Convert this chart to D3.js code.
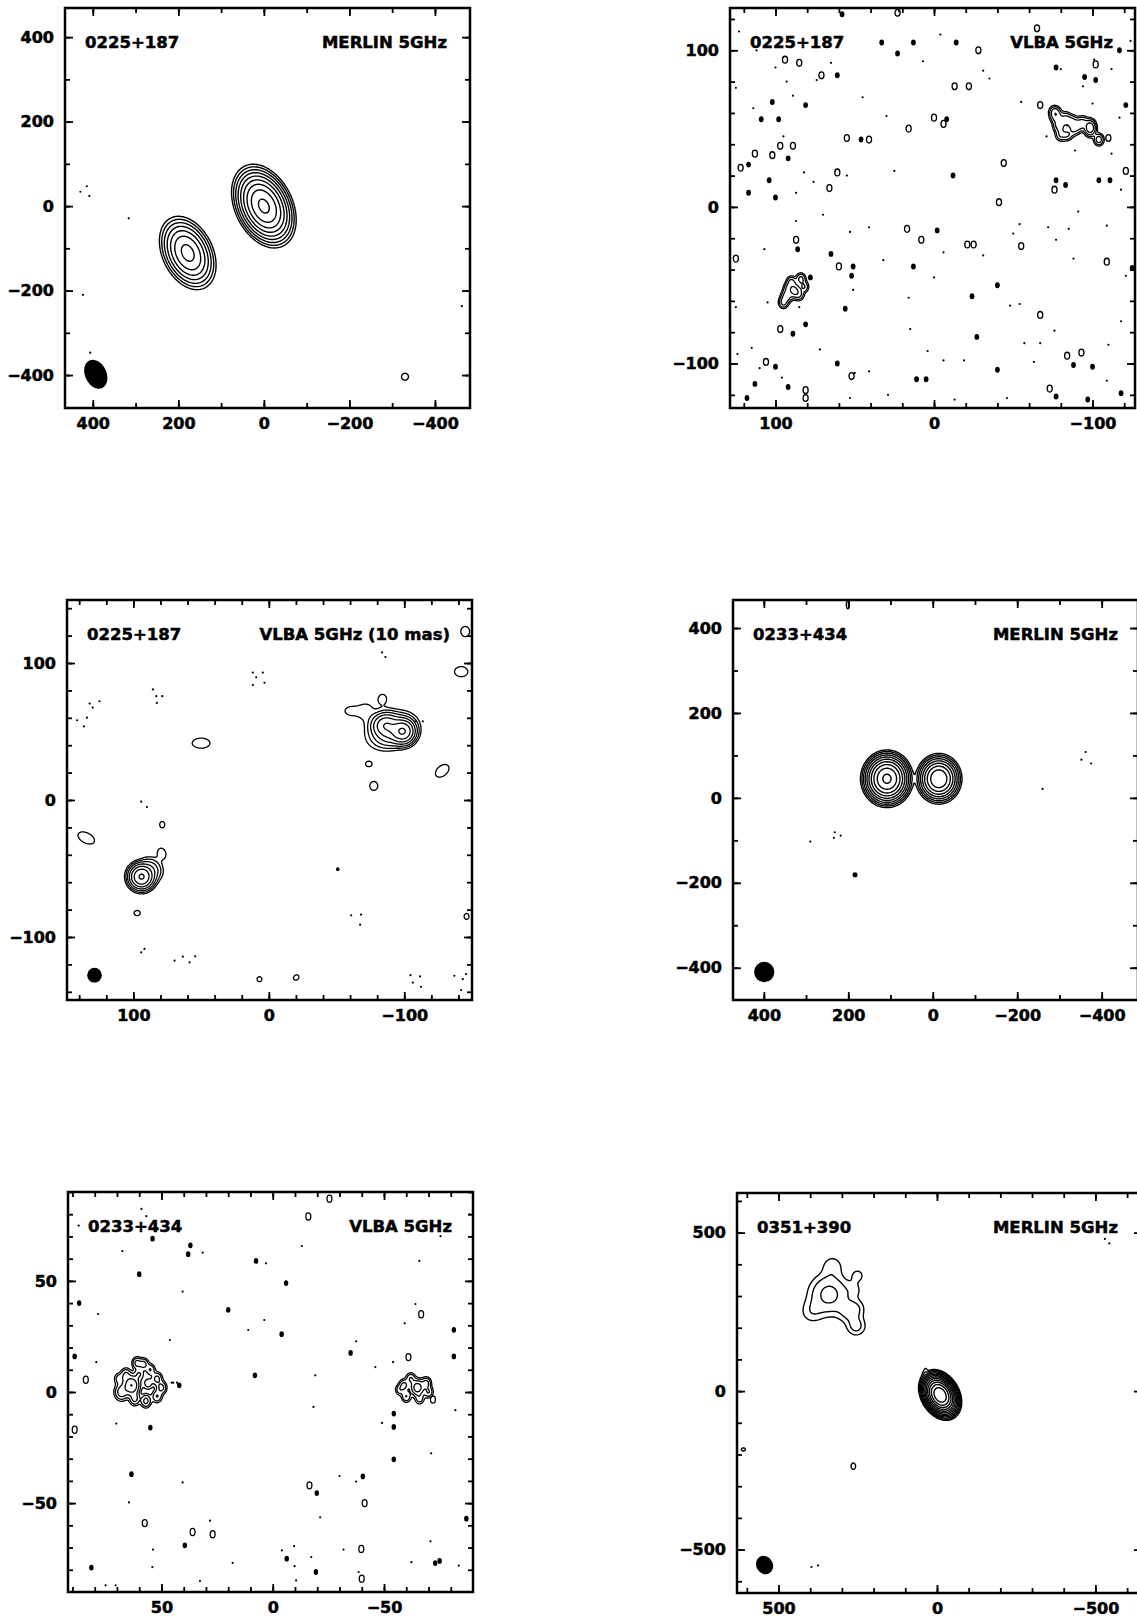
<!DOCTYPE html>
<html>
<head>
<meta charset="utf-8">
<script src="https://cdn.jsdelivr.net/npm/d3@7"></script>
<style>
body { margin: 0; background: #fff; }
</style>
</head>
<body>
<script>
// ---------- data (offsets in mas; amp in units of the lowest contour) ----------
// components: [x, y, amp, sigmaMajor, sigmaMinor, PA(deg, N through E)]
var p1Comps = [[0, 0, 300, 31, 20, 25], [178, -111, 80, 31, 20, 25], [-330, -404, 1.4, 10, 10, 0]];
var p1Dots = [[414, 47], [429, 34], [408, 24], [316, -29], [423, -210], [406, -347], [-463, -237]];
var p1Beam = [393, -398, 36, 25, 25];
var merlinLevels = [1, 2, 4, 8, 16, 32, 64, 128, 256];

var p2Comps = [
  [-98.5, 50.5, 14, 2.8, 2, 0], [-77, 58, 6, 2.6, 2.2, 0], [-79, 52, 6, 2.6, 2.2, 0], [-83, 56, 5, 2.6, 2.2, 0],
  [-87, 54, 5, 2.6, 2.2, 0], [-91, 52, 5, 2.6, 2.2, 0], [-94, 54, 4, 2.4, 2, 0], [-80, 46, 4, 2.4, 2, 0],
  [-84, 46, 4, 2.2, 2, 0], [-76, 61, 4, 2.2, 2, 0], [-104, 43, 6, 2.2, 1.8, 0], [-88, 49, 3, 2.4, 2, 0],
  [88, -53.5, 10, 2.6, 2, 0], [93, -57, 6, 2.4, 2, 0], [95, -61, 5, 2.2, 1.8, 0], [84, -46, 5, 2.2, 1.8, 0],
  [90, -48, 5, 2.2, 1.8, 0], [85, -56, 4, 2.2, 1.8, 0], [82, -51, 4, 2.2, 1.8, 0], [92, -52, 4, 2.2, 1.8, 0]
];
var p2Rings = [[94,94],[85,92],[71,84],[113,34],[102,33],[97,39],[89,39],[66,12],[61,22],[55,44],[41,43],[16,50],[0,57],[-6,53],[-13,77],[-22,77],[-28,100],[-65,114],[-67,65],[-44,28],[-41,3],[17,-14],[8,-21],[-21,-24],[-25,-24],[-55,-25],[-109,-35],[-67,-69],[60,-38],[87,-21],[97,-78],[106,-99],[52,-108],[81,-117],[81,-122],[-93,-93],[-84,-95],[-73,-116],[-121,23],[125,-33],[122,25],[-76,11],[-102,91],[-110,44],[23,124]];
var p2Blobs = [[61,84],[81,65],[46,43],[92,31],[117,27],[102,67],[109,56],[98,56],[104,17],[117,9],[100,6],[-8,56],[33,105],[-14,105],[23,98],[13,105],[58,123],[-12,20],[-77,89],[-95,83],[-102,81],[-117,100],[-121,65],[-104,17],[-111,17],[-77,17],[-83,14],[-2,-15],[13,-38],[-24,-57],[-27,-83],[5,-110],[11,-110],[-40,-104],[-100,-102],[-88,-101],[-118,-119],[-97,-123],[-77,-121],[89,-81],[61,-100],[78,-45],[52,-44],[51,-38],[56,-65],[81,-75],[100,-102],[92,-115],[113,-113],[118,-122],[86,-27],[65,-30],[-125,-39],[-40,-50]];
var p2Dots = [[123,112],[112,100],[100,89],[93,80],[74,81],[65,92],[45,70],[30,58],[7,93],[-4,110],[-31,87],[-35,82],[-55,67],[-71,45],[-89,36],[-112,34],[-118,11],[-91,-3],[-109,-12],[-85,-14],[-72,-13],[-50,-17],[-54,-11],[-77,-21],[-88,-33],[-121,-44],[-118,-73],[-110,-88],[-109,-111],[-57,-87],[-67,-87],[-48,-63],[-54,-62],[-76,-79],[-63,-99],[-46,-122],[-13,-123],[-19,-98],[-6,-98],[29,-120],[41,-105],[53,-122],[50,-106],[72,-91],[96,-109],[110,-103],[124,-94],[105,-61],[125,-64],[115,-90],[85,-64],[87,-9],[107,-27],[70,-5],[53,-16],[41,-13],[16,-58],[15,-78],[4,-92],[0,-45],[-6,-29],[-31,-31],[32,-34],[51,-53],[56,-64],[25,23],[55,20],[76,16],[82,22],[95,45],[87,9],[125,76],[114,63],[89,71],[22,125],[-101,94],[-112,88],[-124,106],[-80,88],[-94,77],[-100,66],[-117,57],[-84,52]];
var vlbaLevels = [1, 2, 4, 8, 16];

var p3Comps = [
  [-99, 50, 60, 4.3, 4.3, 0], [-86, 55, 25, 5, 4.3, 100], [-92, 50, 15, 7, 5, 110], [-90, 51, 4, 11, 7.5, 110],
  [-60, 65, 1.2, 6, 4.5, 90], [-72, 65, 1.25, 6, 5, 0], [-84, 74, 1.25, 4.5, 4, 0],
  [94, -56, 70, 4.3, 4.3, 0], [86, -50, 5, 5, 4, 40], [79, -39, 1.6, 4, 3, 20],
  [50, 41.5, 1.4, 8, 4.5, 90], [134.8, -27.7, 1.4, 8, 4.5, 63], [78.7, -18, 1.3, 3.2, 2.6, 0],
  [97.2, -82.5, 1.3, 3.2, 2.6, 90], [-73.8, 26.3, 1.3, 3.2, 2.6, 90], [-77.5, 10.3, 1.35, 4.2, 3.8, 0],
  [-128, 21.3, 1.4, 7, 4.5, 130], [-142, 93.7, 1.4, 6, 4.5, 90], [-145, 123, 1.4, 4.5, 4, 0],
  [-146, -85, 1.3, 3, 2.5, 0], [6.9, -130.8, 1.3, 2.5, 2.5, 0], [-20.2, -129.6, 1.3, 3, 2.5, 130]
];
var p3Dots = [[-83.6,107.7],[-86.1,104.3],[11.8,93],[4.4,93],[9.3,89.6],[11.8,83.9],[3.2,85.6],[85.6,80.7],[83.1,75.8],[78.7,75.8],[82.7,70.9],[132.3,70.4],[125,72.1],[130,67.5],[141.5,58.2],[134.3,60.1],[136.5,53.7],[94.2,-1.2],[90,-5.2],[-60.8,-84.2],[-68.1,-83.7],[-67.4,-91],[94.2,-111.2],[91.8,-108.7],[69.6,-117.3],[63.5,-114.4],[58.5,-118.5],[54.4,-114.1],[-104.6,-127.9],[-111.7,-128.8],[-106.3,-133.3],[-112.4,-136.4],[-137,-128.3],[-143.2,-130.8],[-145.6,-127.1],[-142,-138.7],[-108.2,57.4],[-113.7,57.4]];
var p3Blobs = [[-50.9, -50.6]];
var p3Beam = [128.7, -127.9, 5.4, 5.4, 0];
var p3Levels = [1, 2, 4, 8, 16, 32, 64];

var p4Comps = [[108.5, 45, 600, 19, 17.5, 0], [-14.3, 45, 250, 18, 16.5, 0], [201, 455, 1.3, 14, 5, 0]];
var p4Dots = [[-362,108],[-352,90],[-375,81],[-260,21],[232,-81],[234,-94],[218,-89],[290,-103]];
var p4Blobs = [[184, -181]];
var p4Beam = [399, -410, 24, 24, 0];
var p4Levels = [1, 2, 4, 8, 16, 32, 64, 128, 256, 512];

var p5Comps = [
  [63.5, 3, 16, 2.4, 2, 0], [61, 13, 5, 1.6, 1.3, 0], [58, 12.5, 5, 1.6, 1.3, 0], [55, 10, 4, 1.6, 1.3, 0],
  [52, 6, 5, 1.7, 1.4, 0], [50, 2, 5, 1.7, 1.4, 0], [52, -2, 4, 1.7, 1.4, 0], [57, -4, 5, 1.8, 1.4, 0],
  [62, -3, 5, 1.8, 1.4, 0], [68, 0, 6, 2.2, 1.8, 0], [56, 4, 3, 1.8, 1.5, 0], [60, 8, 4, 1.6, 1.4, 0],
  [66, 8, 4, 1.7, 1.4, 0], [69, 6, 3, 1.6, 1.4, 0],
  [-65, 2, 12, 2, 1.7, 0], [-59, 3, 5, 1.6, 1.3, 0], [-60, -2, 4, 1.6, 1.3, 0], [-62, 6, 4, 1.6, 1.3, 0],
  [-69, 4, 5, 1.6, 1.3, 0], [-70, 0, 4, 1.6, 1.3, 0], [-57, 1, 3, 1.5, 1.2, 0], [-66, -3, 3, 1.6, 1.3, 0]
];
var p5Rings = [[84,5.5],[89,-17],[57.5,-59],[36,-63],[27,-64],[-16,79],[-25.5,87],[-66.7,35],[-61,15.7],[-72,-3.4],[-16.5,-42],[-41.3,-50],[-39.8,-70.6],[-40,-84]];
var p5Blobs = [[60,53],[38,62],[37,66],[54,69],[7.5,59],[-6,49],[20,37],[-4,26],[8,7.5],[42,3],[87,40],[89,16],[55,-16],[63.5,-37],[39.5,-69],[81.5,-79],[-35,17.6],[-54.4,-9.7],[-54.4,-15.7],[-54.4,-30.3],[-81.4,28],[-81.4,16],[-40.5,-38],[-19.8,-45.5],[-6.3,-75],[-19.4,-81],[-73,-77],[-75,-76],[-87,-57]];
var p5Dots = [[87.2,74.9],[59,82.4],[56.8,79.1],[67.6,63.4],[31.5,62.7],[40.5,45.2],[78.5,35.1],[46.2,23.4],[79.3,13.4],[44.7,4.2],[3,57.9],[3.8,32.4],[11,27.9],[-13.1,65.7],[-19.1,7.5],[-37.5,22.8],[-46.1,11.2],[-54.1,13.4],[-59.3,30.9],[-65.9,59],[-64.1,39.6],[-75.4,70.1],[-88.6,79.9],[-82.1,-8.2],[-71.2,-27.6],[-49.1,-13.9],[-30,-37.8],[-37.5,-40.3],[-21.3,-56.4],[-9.6,-69.4],[-4.1,-71.3],[-9.8,-78.4],[-17.3,-74.3],[-10.5,-84.8],[-31.8,-70.9],[-38.6,-81],[-62.3,-76.6],[-70.9,-67.2],[-83.6,-78.1],[-87.4,-57.5],[18,-76.9],[32.7,-85.1],[28.2,-57.9],[40.5,-40.7],[54.1,-78.8],[53.8,-70.9],[64.6,-49.7],[70.3,-14.2],[75.1,-87],[70.6,-87],[-18.3,-6.7],[45.4,4.2],[43,4.2]];

var p6Comps = [
  [-10, -12, 4000, 21, 15, 30], [38, 62, 1.2, 12, 5, -15],
  [340, 305, 5, 38, 38, 0], [330, 395, 1.6, 22, 22, 0], [395, 250, 1.5, 25, 25, 0],
  [255, 205, 2.6, 20, 20, 0], [280, 250, 2, 22, 22, 0], [255, 260, 1.6, 20, 20, 0],
  [250, 365, 1.4, 15, 15, 0], [260, 320, 1.0, 18, 18, 0],
  [264, -237, 1.3, 14, 10, 0], [611, -184, 1.3, 9, 7, 90]
];
var p6Dots = [[396, -555], [375, -550], [-544, 466], [-530, 480]];
var p6Beam = [544, -549, 30, 26, 30];
var p6Levels = [1, 2, 4, 8, 16, 32, 64, 128, 256, 512, 1024, 2048];

// ---------- layout ----------
var W = 405, H = 400;
var panels = [
  { left: 65, top: 8, xDom: [465, -482], yDom: [-478, 469], step: 2.5, comps: p1Comps, levels: merlinLevels,
    dots: p1Dots, beam: p1Beam, major: [-400, -200, 0, 200, 400], minor: d3.range(-400, 401, 100),
    name: "0225+187", title: "MERLIN 5GHz", titleRight: 23, lw: 1.4 },
  { left: 730, top: 8, xDom: [128.7, -126.8], yDom: [-128.4, 127], step: 0.5, comps: p2Comps, levels: vlbaLevels,
    rings: p2Rings, blobs: p2Blobs, dots: p2Dots, ringSize: [1.6, 2.2], blobSize: [1.5, 1.9],
    major: [-100, 0, 100], minor: d3.range(-120, 121, 20), name: "0225+187", title: "VLBA 5GHz", titleRight: 22, lw: 1.3 },
  { left: 67, top: 600, xDom: [149, -150], yDom: [-146, 146], step: 0.75, comps: p3Comps, levels: p3Levels,
    dots: p3Dots, blobs: p3Blobs, blobSize: [1.3, 1.5], beam: p3Beam, major: [-100, 0, 100], minor: d3.range(-140, 141, 20),
    name: "0225+187", title: "VLBA 5GHz (10 mas)", titleRight: 22, lw: 1.3 },
  { left: 733, top: 600, xDom: [473, -486], yDom: [-476, 466], step: 2.5, comps: p4Comps, levels: p4Levels,
    dots: p4Dots, blobs: p4Blobs, blobSize: [6, 6], beam: p4Beam, major: [-400, -200, 0, 200, 400], minor: d3.range(-400, 401, 100),
    name: "0233+434", title: "MERLIN 5GHz", titleRight: 20, lw: 1.4 },
  { left: 68, top: 1192, xDom: [92, -90], yDom: [-90, 90], step: 0.3, comps: p5Comps, levels: vlbaLevels,
    rings: p5Rings, blobs: p5Blobs, dots: p5Dots, ringSize: [1.1, 1.6], blobSize: [1.0, 1.3],
    major: [-50, 0, 50], minor: d3.range(-80, 91, 10), name: "0233+434", title: "VLBA 5GHz", titleRight: 21, lw: 1.3 },
  { left: 737, top: 1193, xDom: [631, -647], yDom: [-637, 625], step: 3, comps: p6Comps, levels: p6Levels,
    dots: p6Dots, beam: p6Beam, major: [-500, 0, 500], minor: d3.range(-600, 601, 100),
    name: "0351+390", title: "MERLIN 5GHz", titleRight: 24, lw: 1.4 }
];

var svg = d3.select("body").append("svg").attr("width", 1137).attr("height", 1620);

function drawPanel(p, idx) {
  var g = svg.append("g").attr("transform", "translate(" + p.left + "," + p.top + ")");
  var x = d3.scaleLinear().domain(p.xDom).range([0, W]);
  var y = d3.scaleLinear().domain(p.yDom).range([H, 0]);
  var kx = Math.abs(x(1) - x(0)), ky = Math.abs(y(1) - y(0));

  g.append("clipPath").attr("id", "clip" + idx).append("rect").attr("width", W).attr("height", H);
  var plot = g.append("g").attr("clip-path", "url(#clip" + idx + ")");

  // model image on a grid, then contour it
  var nx = Math.ceil(Math.abs(p.xDom[1] - p.xDom[0]) / p.step);
  var ny = Math.ceil(Math.abs(p.yDom[1] - p.yDom[0]) / p.step);
  var sx = (p.xDom[1] - p.xDom[0]) / nx, sy = (p.yDom[0] - p.yDom[1]) / ny;
  var vals = new Float64Array(nx * ny);
  p.comps.forEach(function(c) {
    var cx = c[0], cy = c[1], a = c[2], smaj = c[3], smin = c[4], pa = c[5] * Math.PI / 180;
    var sn = Math.sin(pa), cs = Math.cos(pa), R = 5 * smaj;
    var ic = (cx - p.xDom[0]) / sx - 0.5, jc = (cy - p.yDom[1]) / sy - 0.5;
    var di = R / Math.abs(sx), dj = R / Math.abs(sy);
    var i0 = Math.max(0, Math.floor(ic - di)), i1 = Math.min(nx - 1, Math.ceil(ic + di));
    var j0 = Math.max(0, Math.floor(jc - dj)), j1 = Math.min(ny - 1, Math.ceil(jc + dj));
    for (var j = j0; j <= j1; j++) {
      var dy = p.yDom[1] + (j + 0.5) * sy - cy;
      for (var i = i0; i <= i1; i++) {
        var dx = p.xDom[0] + (i + 0.5) * sx - cx;
        var u = dx * sn + dy * cs, v = dx * cs - dy * sn;
        vals[j * nx + i] += a * Math.exp(-0.5 * (u * u / (smaj * smaj) + v * v / (smin * smin)));
      }
    }
  });
  var contours = d3.contours().size([nx, ny]).thresholds(p.levels)(vals);
  var tr = d3.geoTransform({ point: function(px, py) {
    this.stream.point(x(p.xDom[0] + px * sx), y(p.yDom[1] + py * sy));
  }});
  plot.selectAll("path.cont").data(contours).enter().append("path")
    .attr("class", "cont")
    .attr("d", d3.geoPath(tr))
    .attr("fill", "none").attr("stroke", "#000").attr("stroke-width", p.lw).attr("stroke-linejoin", "round");

  // noise specks
  plot.selectAll("ellipse.ring").data(p.rings || []).enter().append("ellipse")
    .attr("class", "ring")
    .attr("cx", function(d) { return x(d[0]); }).attr("cy", function(d) { return y(d[1]); })
    .attr("rx", p.ringSize ? p.ringSize[0] * kx : 0).attr("ry", p.ringSize ? p.ringSize[1] * ky : 0)
    .attr("fill", "none").attr("stroke", "#000").attr("stroke-width", 1.3);
  plot.selectAll("ellipse.blob").data(p.blobs || []).enter().append("ellipse")
    .attr("class", "blob")
    .attr("cx", function(d) { return x(d[0]); }).attr("cy", function(d) { return y(d[1]); })
    .attr("rx", p.blobSize ? p.blobSize[0] * kx : 0).attr("ry", p.blobSize ? p.blobSize[1] * ky : 0)
    .attr("fill", "#000");
  plot.selectAll("circle.dot").data(p.dots || []).enter().append("circle")
    .attr("class", "dot")
    .attr("cx", function(d) { return x(d[0]); }).attr("cy", function(d) { return y(d[1]); })
    .attr("r", 1.1).attr("fill", "#000");

  // restoring beam
  if (p.beam) {
    var b = p.beam, bx = x(b[0]), by = y(b[1]);
    plot.append("ellipse")
      .attr("cx", bx).attr("cy", by)
      .attr("rx", b[3] * kx).attr("ry", b[2] * ky)
      .attr("transform", "rotate(" + (-b[4]) + "," + bx + "," + by + ")")
      .attr("fill", "#000");
  }

  // ticks on all four sides, pointing in
  function styleAxis(sel) {
    sel.select(".domain").remove();
    sel.selectAll("line").attr("stroke-width", 1.8);
    sel.attr("font-family", "'DejaVu Sans', sans-serif").attr("font-weight", "bold").attr("font-size", 16);
    sel.selectAll("text").attr("stroke", "#000").attr("stroke-width", 0.5);
  }
  var fmt = d3.format("d");
  g.append("g").attr("transform", "translate(0," + H + ")")
    .call(d3.axisBottom(x).tickValues(p.minor).tickSize(-5).tickFormat("")).call(styleAxis);
  g.append("g").attr("transform", "translate(0," + H + ")")
    .call(d3.axisBottom(x).tickValues(p.major).tickSize(-8).tickPadding(10).tickFormat(fmt)).call(styleAxis);
  g.append("g")
    .call(d3.axisLeft(y).tickValues(p.minor).tickSize(-5).tickFormat("")).call(styleAxis);
  g.append("g")
    .call(d3.axisLeft(y).tickValues(p.major).tickSize(-8).tickPadding(11).tickFormat(fmt)).call(styleAxis);
  g.append("g")
    .call(d3.axisTop(x).tickValues(p.minor).tickSize(-5).tickFormat("")).call(styleAxis);
  g.append("g")
    .call(d3.axisTop(x).tickValues(p.major).tickSize(-8).tickFormat("")).call(styleAxis);
  g.append("g").attr("transform", "translate(" + W + ",0)")
    .call(d3.axisRight(y).tickValues(p.minor).tickSize(-5).tickFormat("")).call(styleAxis);
  g.append("g").attr("transform", "translate(" + W + ",0)")
    .call(d3.axisRight(y).tickValues(p.major).tickSize(-8).tickFormat("")).call(styleAxis);

  // frame
  g.append("rect").attr("width", W).attr("height", H)
    .attr("fill", "none").attr("stroke", "#000").attr("stroke-width", 2.5);

  // labels
  g.append("text").attr("x", 20).attr("y", 40)
    .attr("font-family", "'DejaVu Sans', sans-serif").attr("font-weight", "bold").attr("font-size", 16.5)
    .attr("stroke", "#000").attr("stroke-width", 0.5)
    .text(p.name);
  g.append("text").attr("x", W - p.titleRight).attr("y", 40).attr("text-anchor", "end")
    .attr("font-family", "'DejaVu Sans', sans-serif").attr("font-weight", "bold").attr("font-size", 16.5)
    .attr("stroke", "#000").attr("stroke-width", 0.5)
    .text(p.title);
}

panels.forEach(drawPanel);
</script>
</body>
</html>
